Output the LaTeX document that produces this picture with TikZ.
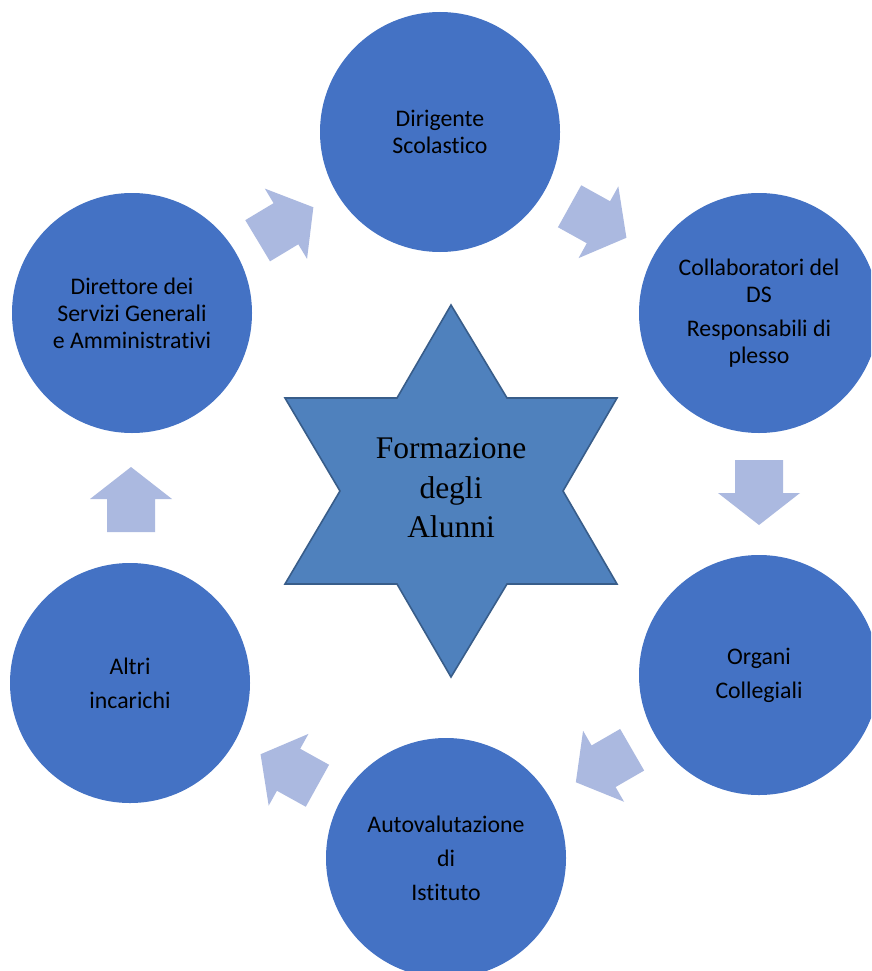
\documentclass[tikz,border=0pt]{standalone}
\usepackage{fontspec}
\setmainfont{Carlito}[Ligatures={NoCommon}]
\newfontfamily\starfont{Liberation Serif}
\definecolor{circblue}{HTML}{4472C4}
\definecolor{starfill}{HTML}{4F81BD}
\definecolor{stardraw}{HTML}{385D8A}
\definecolor{arrowblue}{HTML}{ABB9E0}
\tikzset{
  circ/.style={circle, fill=circblue, draw=none, minimum size=240pt, inner sep=0pt, align=center, text=black, font=\fontsize{23.8}{27}\selectfont},
  barrow/.pic={\fill[arrowblue] (-32.5,-24) -- (0.5,-24) -- (0.5,-41) -- (32.5,0) -- (0.5,41) -- (0.5,24) -- (-32.5,24) -- cycle;}
}
\begin{document}
\begin{tikzpicture}[x=1pt,y=-1pt]
\useasboundingbox (0,0) rectangle (871,971);
\clip (0,0) rectangle (871,971);
\fill[white] (0,0) rectangle (871,971);
% circles
\node[circ] (ds) at (440,132) {Dirigente\\Scolastico};
\node[circ] (coll) at (759,313) {Collaboratori del\\DS\\[7pt]Responsabili di\\plesso};
\node[circ] (org) at (759,675) {Organi\\[7pt]Collegiali};
\node[circ] (auto) at (446,858) {Autovalutazione\\[7pt]di\\[7pt]Istituto};
\node[circ] (altri) at (130,683) {Altri\\[7pt]incarichi};
\node[circ] (dsga) at (132,313) {Direttore dei\\Servizi Generali\\e Amministrativi};
% star
\filldraw[fill=starfill, draw=stardraw, line width=1.6pt, line join=miter]
  (451,305) -- (507,398) -- (617,398) -- (563,491) -- (617,584) -- (507,584)
  -- (451,677) -- (397,584) -- (285,584) -- (340,491) -- (285,398) -- (397,398) -- cycle;
\node[align=center, font=\starfont\fontsize{31.5}{39.5}\selectfont, text=black] (star) at (451,488) {Formazione\\degli\\Alunni};
% block arrows
\pic[rotate=31] at (285.5,224) {barrow};
\pic[rotate=-29] at (598,222) {barrow};
\pic[rotate=-90] at (759,492.5) {barrow};
\pic[rotate=210] at (604,766) {barrow};
\pic[rotate=151] at (289,770) {barrow};
\pic[rotate=90] at (131,499.5) {barrow};
\end{tikzpicture}
\end{document}
